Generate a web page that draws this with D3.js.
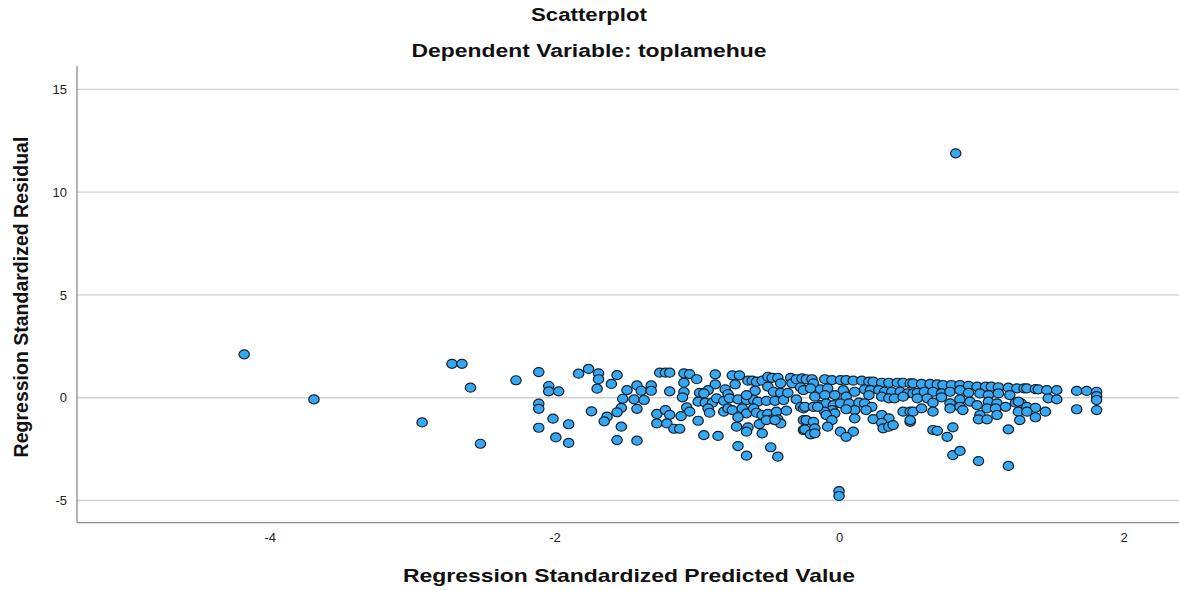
<!DOCTYPE html>
<html>
<head>
<meta charset="utf-8">
<script src="https://cdn.jsdelivr.net/npm/d3@7"></script>
<style>
  html, body { margin: 0; padding: 0; background: #fff; }
  svg { display: block; font-family: "Liberation Sans", Arial, sans-serif; }
</style>
</head>
<body>
<svg id="chart" width="1179" height="590"></svg>
<script>
// Standardized predicted values (x) and standardized residuals (y)
const predicted = [
  -4.18, -3.69, -2.93, -2.72, -2.65, -2.59, -2.52, -2.27,
  -2.11, -2.04, -2.04, -1.97, -2.11, -2.11, -2.01, -2.11, -1.90, -1.99, -1.90, -1.83,
  -1.76, -1.69, -1.69, -1.70, -1.56, -1.60, -1.74, -1.49, -1.42, -1.39, -1.32, -1.32,
  -1.52, -1.44, -1.37, -1.53, -1.56, -1.63, -1.65, -1.42, -1.53, -1.56, -1.42,
  -1.26, -1.22, -1.19, -1.19, -1.28, -1.28, -1.22, -1.19, -1.21, -1.16, -1.12,
  -1.09, -1.05, -1.00, -1.09, -1.09, -1.10, -1.07, -1.05, -1.11, -0.99,
  -0.87, -0.75, -0.70, -0.73, -0.87, -0.92, -0.80, -0.64, -0.61, -0.58, -0.54, -0.50,
  -0.47, -0.43, -0.41, -0.34, -0.33, -0.30, -0.27, -0.25, -0.50, -0.46, -0.59, -0.41,
  -0.98, -0.95, -0.99, -0.94, -0.89, -0.86, -0.81, -0.78, -0.77, -0.71, -0.65, -0.60,
  -0.65, -0.57, -0.51, -0.45, -0.39, -0.36, -0.30, -0.27, -0.25,
  -0.92, -0.91, -0.81, -0.78, -0.75, -0.68, -0.65, -0.60, -0.58, -0.54, -0.50, -0.47,
  -0.44, -0.43, -0.41, -0.37, -0.71, -0.72, -0.64, -0.65, -0.56, -0.54, -0.51, -0.45,
  -0.25, -0.25, -0.95, -0.85, -0.71, -0.65, -0.48, -0.43,
  -0.26, -0.23, -0.19, -0.18, -0.10, -0.05, 0.01, 0.05, 0.10, 0.16, 0.21, 0.24,
  0.30, 0.35, 0.41, 0.45, 0.50, -0.20, -0.13, -0.08, 0.03, 0.11, 0.18, 0.22,
  0.28, 0.32, 0.37, 0.43, 0.48, 0.52, -0.17, -0.10, -0.03, 0.05, 0.21, 0.30,
  0.35, 0.39, 0.45, -0.24, -0.18, -0.13, -0.09, -0.04, 0.01, 0.07, 0.14, 0.18,
  0.23, 0.19, 0.11, 0.05, -0.05, -0.10, -0.15, -0.03, -0.09, -0.05, 0.11, 0.24,
  0.30, 0.35, 0.30, 0.45, 0.50, 0.50, -0.23, -0.18, -0.24, -0.17, -0.20, -0.17,
  -0.08, 0.01, 0.10, 0.05, 0.31, 0.35, 0.38, 0.00, 0.00,
  0.52, 0.58, 0.64, 0.69, 0.73, 0.79, 0.85, 0.91, 0.97, 1.03, 1.07, 1.12,
  1.19, 1.25, 1.30, 0.55, 0.60, 0.66, 0.72, 0.78, 0.85, 0.91, 0.99, 1.05,
  1.12, 1.20, 0.55, 0.62, 0.66, 0.72, 0.78, 0.85, 0.92, 0.97, 1.05, 1.11,
  1.17, 1.24, 1.28, 0.52, 0.58, 0.66, 0.78, 0.85, 0.87, 0.99, 1.04, 1.10,
  1.11, 1.26, 1.27, 0.98, 1.04, 0.50, 0.66, 0.69, 0.80, 0.76, 1.19,
  0.80, 0.85, 0.98, 1.19,
  1.32, 1.38, 1.40, 1.46, 1.53, 1.67, 1.74, 1.81, 1.47, 1.53, 1.81, 1.81,
  1.26, 1.32, 1.38, 1.45, 1.32, 1.38, 1.67, 1.81,
  0.82
];
const residual = [
  2.11, -0.08, -1.20, 1.65, 1.65, 0.49, -2.24, 0.85,
  1.25, 0.57, 0.31, 0.31, -0.29, -0.54, -1.02, -1.46, -1.29, -1.93, -2.20, 1.17,
  1.40, 1.19, 0.90, 0.44, 1.10, 0.67, -0.66, 0.37, 0.60, 0.34, 0.60, 0.34,
  -0.05, -0.08, -0.11, -0.49, -0.71, -0.92, -1.15, -0.54, -1.41, -2.06, -2.09,
  1.22, 1.22, 1.22, 0.31, -0.79, -1.25, -0.60, -0.83, -1.25, -1.51, -1.51,
  1.19, 1.15, 0.90, 0.73, 0.28, 0.02, -0.47, -0.68, -0.89, -1.12,
  1.14, 1.09, 1.09, 0.65, 0.65, 0.37, 0.41, 0.83, 0.83, 0.78, 0.83, 1.02,
  0.97, 0.97, 0.70, 0.97, 0.70, 0.90, 0.51, 0.37, 0.54, 0.29, 0.34, 0.24,
  0.24, 0.21, -0.19, -0.24, -0.24, -0.03, -0.15, 0.18, -0.03, -0.08, -0.11, -0.11,
  0.13, -0.19, -0.15, -0.15, -0.11, 0.24, -0.08, -0.44, -0.52,
  -0.52, -0.73, -0.68, -0.52, -0.60, -0.52, -0.76, -0.52, -0.73, -0.84, -0.79, -1.05,
  -0.68, -1.05, -1.25, -0.63, -0.95, -1.41, -1.44, -1.65, -1.28, -1.73, -1.09, -1.09,
  -1.09, -1.57, -1.82, -1.86, -2.35, -2.82, -2.41, -2.87,
  0.94, 0.90, 0.90, 0.70, 0.90, 0.86, 0.86, 0.86, 0.83, 0.83, 0.78, 0.78,
  0.73, 0.73, 0.73, 0.73, 0.70, 0.46, 0.41, 0.46, 0.37, 0.29, 0.41, 0.37,
  0.37, 0.29, 0.29, 0.29, 0.21, 0.21, 0.05, 0.13, 0.13, 0.05, 0.13, 0.05,
  -0.03, -0.03, 0.05, -0.44, -0.44, -0.36, -0.27, -0.36, -0.27, -0.27, -0.24, -0.27,
  -0.44, -0.60, -0.60, -0.56, -0.60, -0.68, -0.44, -0.76, -0.84, -1.09, -1.00, -1.04,
  -0.84, -1.00, -1.22, -0.68, -0.68, -1.17, -1.09, -1.17, -1.54, -1.49, -1.78, -1.73,
  -1.41, -1.65, -1.65, -1.90, -1.49, -1.41, -1.33, -4.54, -4.78,
  0.70, 0.67, 0.67, 0.65, 0.62, 0.62, 0.62, 0.58, 0.54, 0.54, 0.54, 0.51,
  0.49, 0.46, 0.46, 0.24, 0.29, 0.29, 0.21, 0.29, 0.37, 0.24, 0.21, 0.13,
  0.21, 0.13, -0.03, -0.03, -0.24, 0.02, -0.27, -0.08, -0.19, -0.36, -0.19, -0.27,
  -0.44, -0.24, -0.27, -0.68, -0.52, -0.68, -0.52, -0.44, -0.60, -0.84, -0.52, -0.52,
  -0.84, -0.68, -1.09, -1.05, -1.05, -1.09, -1.57, -1.61, -1.44, -1.90, -1.54,
  -2.79, -2.59, -3.08, -3.32,
  0.46, 0.42, 0.41, 0.37, 0.37, 0.33, 0.33, 0.29, -0.03, -0.08, 0.08, -0.11,
  -0.19, -0.44, -0.49, -0.68, -0.68, -0.95, -0.56, -0.60,
  11.89
];

const xTicks = [-4, -2, 0, 2];
const yTicks = [-5, 0, 5, 10, 15];

const titleText = "Scatterplot";
const subtitleText = "Dependent Variable: toplamehue";
const xTitle = "Regression Standardized Predicted Value";
const yTitle = "Regression Standardized Residual";

const points = predicted.map((p, i) => ({ x: p, y: residual[i] }));

const svg = d3.select("#chart");
const plot = { left: 77, right: 1179, top: 66, bottom: 522.7 };

const x = d3.scaleLinear().domain([-5.355, 2.389]).range([plot.left, plot.right]);
const y = d3.scaleLinear().domain([-6.08, 16.14]).range([plot.bottom, plot.top]);

// tick labels keep a plain hyphen for negatives
const plainFormat = d => String(d);

// horizontal reference lines at the residual ticks
svg.append("g")
  .selectAll("line")
  .data(yTicks)
  .join("line")
  .attr("x1", plot.left)
  .attr("x2", plot.right)
  .attr("y1", d => y(d))
  .attr("y2", d => y(d))
  .attr("stroke", "#cfcfcf")
  .attr("stroke-width", 1.3);

// y axis
const yAxis = svg.append("g")
  .attr("transform", `translate(${plot.left},0)`)
  .call(d3.axisLeft(y).tickValues(yTicks).tickSize(0).tickPadding(10).tickFormat(plainFormat));
yAxis.select(".domain").attr("stroke", "#8c8c8c").attr("stroke-width", 1.3)
  .attr("d", `M0,${plot.top}V${plot.bottom}`);
yAxis.selectAll("text").attr("font-size", 13).attr("fill", "#222")
  .attr("font-family", "'Liberation Sans', Arial, sans-serif");

// x axis
const xAxis = svg.append("g")
  .attr("transform", `translate(0,${plot.bottom})`)
  .call(d3.axisBottom(x).tickValues(xTicks).tickSize(0).tickPadding(10).tickFormat(plainFormat));
xAxis.select(".domain").attr("stroke", "#8c8c8c").attr("stroke-width", 1.3)
  .attr("d", `M${plot.left},0H${plot.right}`);
xAxis.selectAll("text").attr("font-size", 13).attr("fill", "#222")
  .attr("font-family", "'Liberation Sans', Arial, sans-serif");

// points
svg.append("g")
  .selectAll("ellipse")
  .data(points)
  .join("ellipse")
  .attr("cx", d => x(d.x))
  .attr("cy", d => y(d.y))
  .attr("rx", 5.2)
  .attr("ry", 4.5)
  .attr("fill", "#36a8f3")
  .attr("stroke", "#15202b")
  .attr("stroke-width", 1.2);

// titles, set in a wide bold face
function wideText(str, cx, baseline, size, width) {
  return svg.append("text")
    .attr("x", cx).attr("y", baseline)
    .attr("text-anchor", "middle")
    .attr("font-weight", "bold").attr("font-size", size).attr("fill", "#111")
    .attr("textLength", width).attr("lengthAdjust", "spacingAndGlyphs")
    .text(str);
}
wideText(titleText, 589, 21, 18, 116);
wideText(subtitleText, 589, 57, 18, 355);
wideText(xTitle, 629, 582, 19, 452);

svg.append("text")
  .attr("transform", `translate(28,297) rotate(-90)`)
  .attr("text-anchor", "middle")
  .attr("font-weight", "bold").attr("font-size", 19.5).attr("fill", "#111")
  .text(yTitle);
</script>
</body>
</html>
